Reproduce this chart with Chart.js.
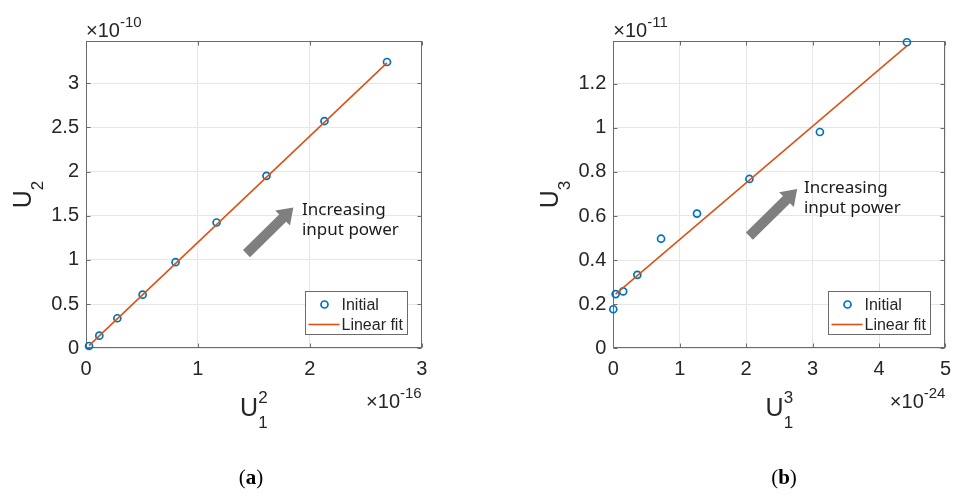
<!DOCTYPE html>
<html lang="en">

<head>
  <meta charset="UTF-8" />
  <title>Harmonic output vs input power</title>
  <script src="https://cdn.jsdelivr.net/npm/chart.js@4.4.0/dist/chart.umd.min.js"></script>
  <style>
    body { margin: 0; background: #fff; }
    #page { position: relative; width: 960px; height: 496px; overflow: hidden; }
    canvas { position: absolute; top: 0; }
    #chartA { left: 0; }
    #chartB { left: 480px; }
    .tag { position: absolute; top: 467px; transform: translateX(-50%); font: 21px/1 'Liberation Serif', 'DejaVu Serif', serif; color: #000; }
  </style>
</head>

<body>
  <div id="page">
    <canvas id="chartA" width="480" height="496"></canvas>
    <canvas id="chartB" width="480" height="496"></canvas>
    <div class="tag" style="left:251px">(<b>a</b>)</div>
    <div class="tag" style="left:784px">(<b>b</b>)</div>
  </div>

  <script>
    // values, in units of the axis multipliers
    // (a) second harmonic: x in 1e-16, y in 1e-10
    const u1SqA = [0.027, 0.119, 0.28, 0.506, 0.80, 1.167, 1.613, 2.131, 2.69];
    const u2A = [0.026, 0.143, 0.34, 0.607, 0.974, 1.423, 1.951, 2.571, 3.239];
    const fitXA = [0.027, 2.69];
    const fitYA = [0.03, 3.23];

    // (b) third harmonic: x in 1e-24, y in 1e-11
    const u1CuB = [0.0, 0.035, 0.149, 0.362, 0.719, 1.26, 2.049, 3.11, 4.42];
    const u3B = [0.177, 0.246, 0.258, 0.333, 0.497, 0.611, 0.768, 0.981, 1.388];
    const fitXB = [0.035, 4.42];
    const fitYB = [0.246, 1.372];

    const seriesNames = ['Initial', 'Linear fit'];
    const ticksXA = [0, 1, 2, 3];
    const ticksYA = [0, 0.5, 1, 1.5, 2, 2.5, 3];
    const ticksXB = [0, 1, 2, 3, 4, 5];
    const ticksYB = [0, 0.2, 0.4, 0.6, 0.8, 1, 1.2];

    const INK = '#262626';
    const SANS = "'Liberation Sans', Arial, sans-serif";
    const font = size => size + 'px ' + SANS;

    function pts(xs, ys) {
      return xs.map((x, i) => ({ x: x, y: ys[i] }));
    }

    function scriptWidth(ctx, t) {
      ctx.font = font(t.size);
      const w = ctx.measureText(t.main).width;
      ctx.font = font(t.small);
      const s = Math.max(t.sub ? ctx.measureText(t.sub).width : 0, t.sup ? ctx.measureText(t.sup).width : 0);
      return w + s;
    }

    // text with subscript / superscript after it, baseline at y
    function drawScript(ctx, t, x, y) {
      ctx.font = font(t.size);
      ctx.fillText(t.main, x, y);
      const w = ctx.measureText(t.main).width;
      ctx.font = font(t.small);
      if (t.sub) ctx.fillText(t.sub, x + w, y + t.drop);
      if (t.sup) ctx.fillText(t.sup, x + w, y - t.rise);
    }

    function drawArrow(ctx, x0, y0, x1, y1, shaft, headW, headL, color) {
      const ang = Math.atan2(y1 - y0, x1 - x0);
      const len = Math.hypot(x1 - x0, y1 - y0);
      ctx.save();
      ctx.translate(x0, y0);
      ctx.rotate(ang);
      ctx.beginPath();
      ctx.moveTo(0, -shaft / 2);
      ctx.lineTo(len - headL, -shaft / 2);
      ctx.lineTo(len - headL, -headW / 2);
      ctx.lineTo(len, 0);
      ctx.lineTo(len - headL, headW / 2);
      ctx.lineTo(len - headL, shaft / 2);
      ctx.lineTo(0, shaft / 2);
      ctx.closePath();
      ctx.fillStyle = color;
      ctx.fill();
      ctx.restore();
    }

    // MATLAB-ish box, inward ticks, labels with scripts, legend and note
    const matlabLook = {
      id: 'matlabLook',
      beforeDatasetsDraw(chart, args, o) {
        const { ctx, chartArea: a, scales } = chart;
        const L = Math.round(a.left) + 0.5, R = Math.round(a.right) - 0.5;
        const T = Math.round(a.top) + 0.5, B = Math.round(a.bottom) - 0.5;
        ctx.save();
        ctx.strokeStyle = o.boxColor;
        ctx.lineWidth = 1;
        ctx.strokeRect(L, T, R - L, B - T);
        ctx.beginPath();
        scales.x.ticks.forEach(t => {
          const px = Math.round(scales.x.getPixelForValue(t.value)) + 0.5;
          ctx.moveTo(px, B); ctx.lineTo(px, B - 4);
          ctx.moveTo(px, T); ctx.lineTo(px, T + 4);
        });
        scales.y.ticks.forEach(t => {
          const py = Math.round(scales.y.getPixelForValue(t.value)) + 0.5;
          ctx.moveTo(L, py); ctx.lineTo(L + 4, py);
          ctx.moveTo(R, py); ctx.lineTo(R - 4, py);
        });
        ctx.stroke();
        ctx.restore();
      },
      afterDraw(chart, args, o) {
        const { ctx, chartArea: a, scales } = chart;
        ctx.save();
        ctx.fillStyle = INK;
        ctx.textBaseline = 'alphabetic';
        ctx.textAlign = 'left';

        // axis titles
        const xw = scriptWidth(ctx, o.xTitle);
        drawScript(ctx, o.xTitle, (a.left + a.right) / 2 - xw / 2, a.bottom + 68);
        const yw = scriptWidth(ctx, o.yTitle);
        ctx.save();
        ctx.translate(a.left - 55, (a.top + a.bottom) / 2);
        ctx.rotate(-Math.PI / 2);
        drawScript(ctx, o.yTitle, -yw / 2, 0);
        ctx.restore();

        // exponent multipliers
        const ex = { main: '\u00d710', size: 20, small: 15, rise: 10, drop: 0 };
        drawScript(ctx, Object.assign({}, ex, { sup: o.yExp }), a.left, a.top - 4);
        const xe = Object.assign({}, ex, { sup: o.xExp });
        drawScript(ctx, xe, a.right - scriptWidth(ctx, xe), a.bottom + 60);

        // arrow and note
        const ar = o.arrow;
        drawArrow(ctx,
          scales.x.getPixelForValue(ar.from[0]), scales.y.getPixelForValue(ar.from[1]),
          scales.x.getPixelForValue(ar.to[0]), scales.y.getPixelForValue(ar.to[1]),
          10, 21, 15, '#7f7f7f');
        ctx.fillStyle = '#1a1a1a';
        ctx.font = o.noteFont;
        const nx = scales.x.getPixelForValue(o.note.at[0]);
        const ny = scales.y.getPixelForValue(o.note.at[1]);
        o.note.lines.forEach((s, i) => ctx.fillText(s, nx, ny + i * 20));

        // legend box in lower right
        const ds = chart.data.datasets;
        const bw = 102, bh = 43;
        const bx = Math.round(a.right - 15 - bw) + 0.5, by = Math.round(a.bottom - 14 - bh) + 0.5;
        ctx.fillStyle = '#fff';
        ctx.fillRect(bx, by, bw, bh);
        ctx.strokeStyle = o.boxColor;
        ctx.lineWidth = 1;
        ctx.strokeRect(bx, by, bw, bh);
        ctx.font = font(16);
        ctx.textBaseline = 'middle';
        ds.forEach((d, i) => {
          const cy = by + 13 + i * 20;
          ctx.strokeStyle = d.borderColor;
          ctx.lineWidth = d.borderWidth;
          ctx.beginPath();
          if (d.showLine) {
            ctx.moveTo(bx + 3, cy);
            ctx.lineTo(bx + 34, cy);
          } else {
            ctx.arc(bx + 19, cy, d.pointRadius, 0, Math.PI * 2);
          }
          ctx.stroke();
          ctx.fillStyle = INK;
          ctx.fillText(d.label, bx + 36, cy + 1);
        });
        ctx.restore();
      }
    };

    function makeChart(id, xs, ys, fx, fy, xTicks, yTicks, yMax, pad, look) {
      const tickOpts = (list) => ({
        color: INK,
        font: { family: SANS, size: 20 },
        stepSize: list[1] - list[0],
        includeBounds: false,
        callback: v => String(+v.toFixed(2))
      });
      return new Chart(document.getElementById(id), {
        type: 'scatter',
        data: {
          datasets: [{
            label: seriesNames[0],
            data: pts(xs, ys),
            showLine: false,
            pointRadius: 3.5,
            pointHoverRadius: 3.5,
            borderWidth: 1.7,
            pointBorderWidth: 1.7,
            borderColor: '#0072BD',
            backgroundColor: 'rgba(0,0,0,0)',
            order: 1,
            clip: false
          }, {
            label: seriesNames[1],
            data: pts(fx, fy),
            showLine: true,
            pointRadius: 0,
            borderWidth: 1.6,
            borderColor: '#D95319',
            backgroundColor: '#D95319',
            order: 0,
            clip: false
          }]
        },
        options: {
          responsive: false,
          animation: false,
          events: [],
          layout: { padding: pad },
          plugins: {
            legend: { display: false },
            tooltip: { enabled: false },
            matlabLook: look
          },
          scales: {
            x: {
              type: 'linear',
              min: xTicks[0],
              max: xTicks[xTicks.length - 1],
              afterFit: s => { s.height = 40; },
              grid: { color: '#e6e6e6', drawTicks: false },
              border: { display: false },
              ticks: Object.assign(tickOpts(xTicks), { padding: 9, maxRotation: 0 })
            },
            y: {
              type: 'linear',
              min: yTicks[0],
              max: yMax,
              afterFit: s => { s.width = 66; },
              grid: { color: '#e6e6e6', drawTicks: false },
              border: { display: false },
              ticks: Object.assign(tickOpts(yTicks), { padding: 7 })
            }
          }
        },
        plugins: [matlabLook]
      });
    }

    const noteLines = ['Increasing', 'input power'];
    const noteFont = "17px 'Noto Sans', 'Open Sans', sans-serif";

    makeChart('chartA', u1SqA, u2A, fitXA, fitYA, ticksXA, ticksYA, 3.48,
      { left: 20, right: 58.3, top: 40.7, bottom: 107.7 },
      {
        boxColor: '#6b6b6b',
        xTitle: { main: 'U', sub: '1', sup: '2', size: 25, small: 17, drop: 12, rise: 13 },
        yTitle: { main: 'U', sub: '2', size: 25, small: 17, drop: 12 },
        xExp: '-16', yExp: '-10',
        arrow: { from: [1.434, 1.071], to: [1.853, 1.592] },
        note: { at: [1.93, 1.51], lines: noteLines },
        noteFont: noteFont
      });

    makeChart('chartB', u1CuB, u3B, fitXB, fitYB, ticksXB, ticksYB, 1.395,
      { left: 67.3, right: 10.7, top: 40.7, bottom: 107.7 },
      {
        boxColor: '#6b6b6b',
        xTitle: { main: 'U', sub: '1', sup: '3', size: 25, small: 17, drop: 12, rise: 13 },
        yTitle: { main: 'U', sub: '3', size: 25, small: 17, drop: 12 },
        xExp: '-24', yExp: '-11',
        arrow: { from: [2.049, 0.509], to: [2.768, 0.722] },
        note: { at: [2.87, 0.703], lines: noteLines },
        noteFont: noteFont
      });
  </script>
</body>

</html>
